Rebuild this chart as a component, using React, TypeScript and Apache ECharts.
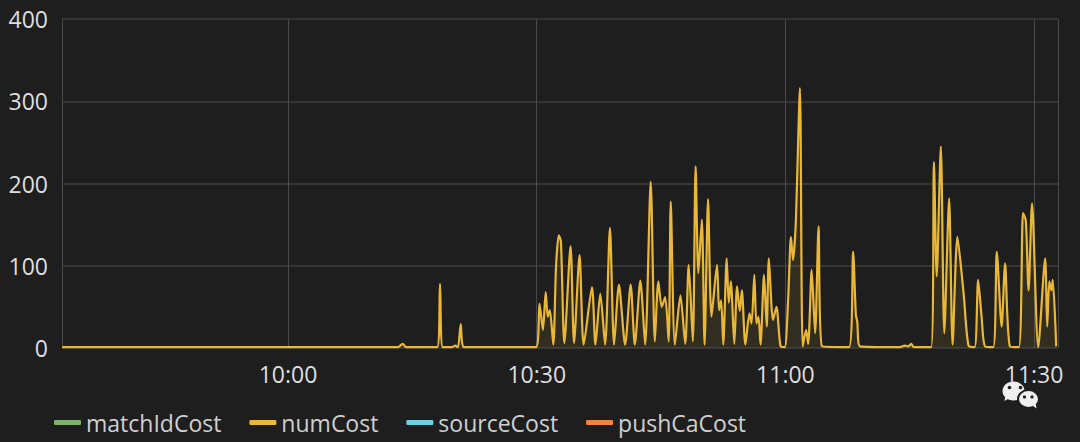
import React, { useEffect, useRef } from "react";
import * as echarts from "echarts";

const DAY = "2024-01-01 ";
const axisStart = "09:32:44";
const axisEnd = "11:32:53";
const yTicks = [0, 100, 200, 300, 400];
const legendNames = ["matchIdCost", "numCost", "sourceCost", "pushCaCost"];
const seriesColors = ["#7EB26D", "#EAB839", "#6ED0E0", "#EF843C"];

const itemTimes = [
  "09:32:45", "10:13:15", "10:13:50", "10:14:15", "10:18:00", "10:18:20", "10:18:40",
  "10:19:45", "10:20:10", "10:20:30", "10:20:50", "10:21:15", "10:29:55", "10:30:20",
  "10:30:45", "10:31:05", "10:31:20", "10:31:35", "10:32:00", "10:32:20", "10:32:40",
  "10:32:55", "10:33:20", "10:34:05", "10:34:30", "10:35:10", "10:35:40", "10:36:40",
  "10:37:05", "10:37:40", "10:38:15", "10:38:50", "10:39:20", "10:39:55", "10:40:40",
  "10:41:20", "10:41:50", "10:42:30", "10:43:05", "10:43:45", "10:44:15", "10:44:40",
  "10:45:05", "10:45:30", "10:45:55", "10:46:10", "10:46:40", "10:47:20", "10:47:55",
  "10:48:20", "10:48:50", "10:49:10", "10:49:30", "10:49:55", "10:50:15", "10:50:40",
  "10:51:05", "10:51:45", "10:52:00", "10:52:15", "10:52:30", "10:52:55", "10:53:10",
  "10:53:25", "10:53:50", "10:54:10", "10:54:30", "10:54:45", "10:55:10", "10:55:40",
  "10:55:55", "10:56:15", "10:56:30", "10:56:45", "10:57:00", "10:57:25", "10:57:45",
  "10:58:00", "10:58:30", "10:58:55", "10:59:25", "10:59:55", "11:00:20", "11:00:40",
  "11:00:55", "11:01:15", "11:01:45", "11:02:05", "11:02:30", "11:02:45", "11:03:10",
  "11:03:35", "11:04:00", "11:04:25", "11:07:40", "11:08:10", "11:08:30", "11:08:40",
  "11:09:00", "11:13:50", "11:14:25", "11:14:50", "11:15:10", "11:15:30", "11:17:35",
  "11:17:55", "11:18:15", "11:18:45", "11:19:10", "11:19:45", "11:20:10", "11:20:45",
  "11:21:30", "11:22:05", "11:22:50", "11:23:15", "11:23:40", "11:24:05", "11:25:05",
  "11:25:30", "11:26:05", "11:26:30", "11:27:05", "11:28:10", "11:28:40", "11:29:00",
  "11:29:20", "11:29:45", "11:30:30", "11:31:20", "11:31:35", "11:31:50", "11:32:05",
  "11:32:15", "11:32:40",
];

const itemValues = [
  1, 1, 5, 1, 1, 78, 1,
  1, 3, 1, 29, 1, 1, 54,
  22, 68, 38, 46, 4, 100, 137,
  130, 6, 124, 6, 113, 4, 74,
  4, 66, 4, 146, 4, 77, 4,
  77, 4, 82, 4, 202, 8, 81,
  50, 62, 8, 178, 4, 64, 5,
  101, 8, 221, 91, 156, 4, 181,
  38, 101, 46, 58, 4, 109, 55,
  81, 5, 75, 45, 70, 4, 42,
  30, 89, 30, 38, 4, 89, 26,
  109, 34, 50, 2, 1, 60, 135,
  107, 152, 316, 2, 22, 5, 95,
  18, 148, 2, 1, 117, 40, 32,
  2, 1, 3, 2, 5, 1, 1,
  226, 87, 245, 18, 182, 4, 135,
  66, 3, 1, 83, 38, 2, 1,
  117, 26, 103, 2, 1, 164, 155,
  70, 176, 1, 109, 26, 81, 70,
  83, 2,
];

export default function App() {
  const ref = useRef<HTMLDivElement>(null);

  useEffect(() => {
    if (!ref.current) return;
    const chart = echarts.init(ref.current, null, { renderer: "svg" });
    const itemData = itemTimes.map((t, i) => [DAY + t, itemValues[i]]);
    const series: any[] = legendNames.map((name, i) => ({
      name,
      type: "line",
      data: i === 1 ? itemData : [],
      showSymbol: false,
      smooth: 0.25,
      z: i === 1 ? 5 : 2,
      lineStyle: { color: seriesColors[i], width: 2.2 },
      itemStyle: { color: seriesColors[i] },
      areaStyle: { color: seriesColors[i], opacity: 0.1 },
    }));

    chart.setOption({
      animation: false,
      backgroundColor: "#1e1e1f",
      textStyle: { fontFamily: "'Open Sans', sans-serif" },
      grid: { left: 62, right: 22, top: 19, bottom: 94 },
      legend: {
        left: 54,
        top: 411,
        icon: "roundRect",
        itemWidth: 27,
        itemHeight: 5,
        itemGap: 28,
        padding: 0,
        textStyle: { color: "#d0d0d0", fontSize: 23, fontFamily: "'Open Sans', sans-serif" },
        data: legendNames,
      },
      xAxis: {
        type: "time",
        min: DAY + axisStart,
        max: DAY + axisEnd,
        minInterval: 35 * 60 * 1000,
        maxInterval: 35 * 60 * 1000,
        axisLine: { show: false },
        axisTick: { show: false },
        axisLabel: {
          color: "#dedede",
          fontSize: 23,
          margin: 14,
          formatter: "{HH}:{mm}",
          showMinLabel: false,
          showMaxLabel: false,
        },
        splitLine: { show: true, lineStyle: { color: "#4a4a4a", width: 1 } },
      },
      yAxis: {
        type: "value",
        min: yTicks[0],
        max: yTicks[yTicks.length - 1],
        interval: 100,
        axisLine: { show: false },
        axisTick: { show: false },
        axisLabel: { color: "#dedede", fontSize: 23, margin: 14 },
        splitLine: { lineStyle: { color: "#3e3e3e", width: 1.5 } },
      },
      graphic: [
        {
          type: "group",
          right: 40,
          bottom: 33,
          children: [
            { type: "ellipse", shape: { cx: 11, cy: 9.5, rx: 11, ry: 9.5 }, style: { fill: "#efefef" } },
            { type: "polygon", shape: { points: [[3, 14], [2, 19.5], [8, 16]] }, style: { fill: "#efefef" } },
            { type: "circle", shape: { cx: 7, cy: 6, r: 1.8 }, style: { fill: "#1e1e1f" } },
            { type: "circle", shape: { cx: 18, cy: 6, r: 1.8 }, style: { fill: "#1e1e1f" } },
            { type: "ellipse", shape: { cx: 26, cy: 17.5, rx: 10.5, ry: 9 }, style: { fill: "#efefef", stroke: "#1e1e1f", lineWidth: 2 } },
            { type: "polygon", shape: { points: [[30, 24], [34, 27], [33, 21]] }, style: { fill: "#efefef" } },
            { type: "circle", shape: { cx: 22, cy: 15.5, r: 1.6 }, style: { fill: "#1e1e1f" } },
            { type: "circle", shape: { cx: 29.5, cy: 15.5, r: 1.6 }, style: { fill: "#1e1e1f" } },
          ],
        },
      ],
      series,
    });

    return () => chart.dispose();
  }, []);

  return (
    <div
      ref={ref}
      style={{ position: "fixed", left: 0, top: 0, width: 1080, height: 442 }}
    />
  );
}
